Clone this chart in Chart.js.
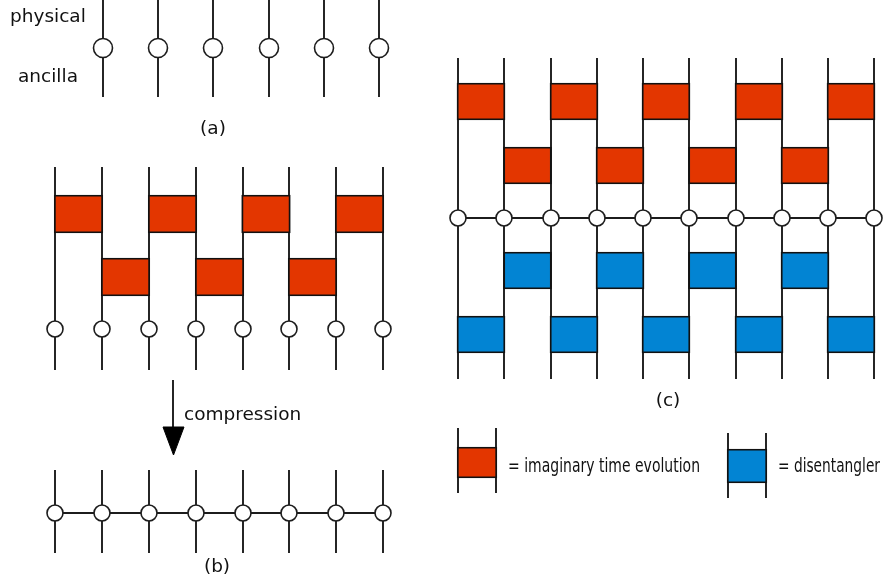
<!DOCTYPE html>
<html><head><meta charset="utf-8">
<script src="https://cdn.jsdelivr.net/npm/chart.js@4/dist/chart.umd.min.js"></script>
<style>html,body{margin:0;padding:0;background:#fff;overflow:hidden}#wrap{width:886px;height:579px}</style>
</head><body><div id="wrap"><canvas id="c" width="886" height="579"></canvas></div>
<script>
// ---- diagram data (in diagram units) ----
const panelAWireX = [103, 158, 213, 269, 324, 379];
const panelASpan = [0, 97];
const panelANodeY = 48;

const panelBWireX = [55, 102, 149, 196, 243, 289, 336, 383];
const panelBUpperSpan = [167, 370];
const panelBUpperNodeY = 329;
const panelBRow1Y = [195, 233];
const panelBRow1Left = [0, 2, 4, 6];
const panelBRow2Y = [258, 296];
const panelBRow2Left = [1, 3, 5];
const panelBLowerSpan = [470, 553];
const panelBLowerNodeY = 513;

const panelCWireX = [458, 504, 551, 597, 643, 689, 736, 782, 828, 874];
const panelCSpan = [58, 379];
const panelCNodeY = 218;
const panelCRed1Y = [83, 120];
const panelCRed1Left = [0, 2, 4, 6, 8];
const panelCRed2Y = [147, 184];
const panelCRed2Left = [1, 3, 5, 7];
const panelCBlue1Y = [252, 289];
const panelCBlue1Left = [1, 3, 5, 7];
const panelCBlue2Y = [316, 353];
const panelCBlue2Left = [0, 2, 4, 6, 8];

const legendRedWireX = [458, 496];
const legendRedSpan = [428, 493];
const legendRedY = [447, 478];
const legendBlueWireX = [728, 766];
const legendBlueSpan = [433, 498];
const legendBlueY = [449, 483];

const arrowShaftX = [173, 173];
const arrowShaftY = [380, 432];
const arrowHeadX = [163, 184, 173.5, 163];
const arrowHeadY = [427, 427, 455, 427];

const labelTexts = ['physical', 'ancilla', '(a)', 'compression', '(b)', '(c)', '= imaginary time evolution', '= disentangler'];
const labelX = [10, 18, 213, 184, 217, 668, 508, 778];
const labelY = [22, 82, 134, 420, 572, 406, 472, 472];

// ---- styles ----
const INK = '#1c1c1c';
const RED = '#e33600';
const BLUE = '#0284d3';
const labelAlign = ['left', 'left', 'center', 'left', 'center', 'center', 'left', 'left'];
const labelMaxW = [0, 0, 0, 0, 0, 0, 192, 102];
const labelSize = [18.5, 18.5, 18.5, 18.5, 18.5, 18.5, 20, 20];

const datasets = [];
function seg(xs, ys) {
  datasets.push({type: 'line', data: xs.map((x, i) => ({x, y: ys[i]})), borderColor: INK, borderWidth: 1.9,
    pointRadius: 0, fill: false, tension: 0, order: 3});
}
function wires(xs, span) { xs.forEach(x => seg([x, x], span)); }
function nodes(xs, y, r) {
  datasets.push({type: 'line', showLine: false, data: xs.map(x => ({x, y})), pointRadius: r,
    pointBackgroundColor: '#fff', pointBorderColor: INK, pointBorderWidth: 1.6, order: 0});
}
function gates(xs, lefts, ys, color) {
  const pitch = (xs[xs.length - 1] - xs[0]) / (xs.length - 1);
  datasets.push({type: 'bar', data: lefts.map(i => ({x: (xs[i] + xs[i + 1]) / 2, y: ys})),
    barThickness: pitch + 1.8, grouped: false, backgroundColor: color, borderColor: '#111',
    borderWidth: 1.9, borderSkipped: false, order: 1});
}

// panel (a)
wires(panelAWireX, panelASpan);
nodes(panelAWireX, panelANodeY, 9.5);
// panel (b) upper
wires(panelBWireX, panelBUpperSpan);
gates(panelBWireX, panelBRow1Left, panelBRow1Y, RED);
gates(panelBWireX, panelBRow2Left, panelBRow2Y, RED);
nodes(panelBWireX, panelBUpperNodeY, 8);
// arrow
seg(arrowShaftX, arrowShaftY);
datasets.push({type: 'line', data: arrowHeadX.map((x, i) => ({x, y: arrowHeadY[i]})), borderColor: '#000',
  backgroundColor: '#000', borderWidth: 1, pointRadius: 0, fill: 'shape', tension: 0, order: 2});
// panel (b) lower
wires(panelBWireX, panelBLowerSpan);
seg([panelBWireX[0], panelBWireX[panelBWireX.length - 1]], [panelBLowerNodeY, panelBLowerNodeY]);
nodes(panelBWireX, panelBLowerNodeY, 8);
// panel (c)
wires(panelCWireX, panelCSpan);
seg([panelCWireX[0], panelCWireX[panelCWireX.length - 1]], [panelCNodeY, panelCNodeY]);
gates(panelCWireX, panelCRed1Left, panelCRed1Y, RED);
gates(panelCWireX, panelCRed2Left, panelCRed2Y, RED);
gates(panelCWireX, panelCBlue1Left, panelCBlue1Y, BLUE);
gates(panelCWireX, panelCBlue2Left, panelCBlue2Y, BLUE);
nodes(panelCWireX, panelCNodeY, 8);
// legend
wires(legendRedWireX, legendRedSpan);
gates(legendRedWireX, [0], legendRedY, RED);
wires(legendBlueWireX, legendBlueSpan);
gates(legendBlueWireX, [0], legendBlueY, BLUE);

const textPlugin = {
  id: 'diagramText',
  afterDatasetsDraw(chart) {
    const {ctx, scales: {x, y}} = chart;
    ctx.save();
    ctx.fillStyle = '#111';
    ctx.textBaseline = 'alphabetic';
    labelTexts.forEach((t, i) => {
      ctx.font = labelSize[i] + 'px "DejaVu Sans", Verdana, sans-serif';
      ctx.textAlign = labelAlign[i];
      const px = x.getPixelForValue(labelX[i]);
      const py = y.getPixelForValue(labelY[i]);
      if (labelMaxW[i]) ctx.fillText(t, px, py, labelMaxW[i]); else ctx.fillText(t, px, py);
    });
    ctx.restore();
  }
};

new Chart(document.getElementById('c'), {
  type: 'bar',
  data: {datasets},
  options: {
    responsive: false,
    animation: false,
    layout: {padding: 0, autoPadding: false},
    plugins: {legend: {display: false}, tooltip: {enabled: false}},
    scales: {
      x: {type: 'linear', min: 0, max: 886, display: false, offset: false, bounds: 'data'},
      y: {type: 'linear', min: 0, max: 579, reverse: true, display: false, offset: false}
    }
  },
  plugins: [textPlugin]
});
</script></body></html>
